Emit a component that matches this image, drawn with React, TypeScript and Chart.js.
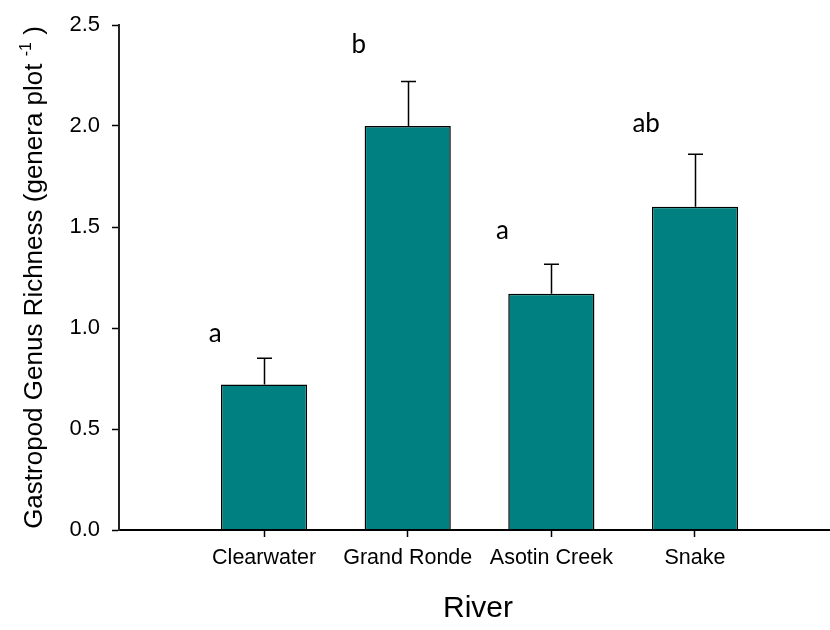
import React, { useEffect, useRef } from "react";
import { Chart, registerables } from "chart.js";

Chart.register(...registerables);

// Gastropod genus richness per river (mean with standard error)
const rivers = ["Clearwater", "Grand Ronde", "Asotin Creek", "Snake"];
const richness = [0.72, 2.0, 1.17, 1.6];
const stdError = [0.13, 0.22, 0.145, 0.26];
// Significance groupings and the richness level each letter sits at
const groupLetters = ["a", "b", "a", "ab"];
const letterLevels = [0.93, 2.36, 1.44, 1.97];

const Y_MIN = 0;
const Y_MAX = 2.5;
const Y_STEP = 0.5;

const TEAL = "#008080";
const AXIS_FONT = "'Liberation Sans', Arial, Helvetica, sans-serif";
const LETTER_FONT = "Lato, 'Open Sans', sans-serif";

const annotations = {
  id: "annotations",
  afterDatasetsDraw(chart: any) {
    const { ctx, scales } = chart;
    const xs = scales.x;
    const ys = scales.y;
    ctx.save();
    // upper standard-error whiskers
    ctx.strokeStyle = "#000";
    ctx.lineWidth = 1.5;
    richness.forEach((v, i) => {
      const x = Math.round(xs.getPixelForValue(i)) + 0.5;
      const yBar = ys.getPixelForValue(v);
      const yTop = ys.getPixelForValue(v + stdError[i]);
      ctx.beginPath();
      ctx.moveTo(x, yBar);
      ctx.lineTo(x, yTop);
      ctx.moveTo(x - 7.5, yTop);
      ctx.lineTo(x + 7.5, yTop);
      ctx.stroke();
    });
    // group letters
    ctx.fillStyle = "#000";
    ctx.font = `26px ${LETTER_FONT}`;
    ctx.textAlign = "center";
    ctx.textBaseline = "alphabetic";
    groupLetters.forEach((t, i) => {
      ctx.fillText(t, xs.getPixelForValue(i - 0.34), ys.getPixelForValue(letterLevels[i]));
    });
    ctx.restore();
  },
  afterDraw(chart: any) {
    const { ctx, chartArea } = chart;
    ctx.save();
    ctx.fillStyle = "#000";
    // x-axis title
    ctx.font = `30px ${AXIS_FONT}`;
    ctx.textAlign = "center";
    ctx.textBaseline = "alphabetic";
    ctx.fillText("River", 478, 617);

    // y-axis title with a superscript exponent
    const main = "Gastropod Genus Richness (genera plot ";
    const sup = "-1";
    const tail = " )";
    const big = `26px ${AXIS_FONT}`;
    const small = `16px ${AXIS_FONT}`;
    ctx.font = big;
    const wMain = ctx.measureText(main).width;
    const wTail = ctx.measureText(tail).width;
    ctx.font = small;
    const wSup = ctx.measureText(sup).width;
    const total = wMain + wSup + wTail;
    const cy = (chartArea.top + chartArea.bottom) / 2;
    ctx.translate(42, cy);
    ctx.rotate(-Math.PI / 2);
    ctx.textAlign = "left";
    let x0 = -total / 2;
    ctx.font = big;
    ctx.fillText(main, x0, 0);
    x0 += wMain;
    ctx.font = small;
    ctx.fillText(sup, x0, -11);
    x0 += wSup;
    ctx.font = big;
    ctx.fillText(tail, x0, 0);
    ctx.restore();
  },
};

export default function App() {
  const canvasRef = useRef<HTMLCanvasElement | null>(null);

  useEffect(() => {
    const canvas = canvasRef.current;
    if (!canvas) return;
    const chart = new Chart(canvas, {
      type: "bar",
      data: {
        datasets: [
          {
            data: richness.map((v, i) => ({ x: i, y: v })),
            backgroundColor: TEAL,
            borderColor: "#000",
            borderWidth: 1.5,
            barPercentage: 0.6,
            categoryPercentage: 1,
          },
        ],
      },
      options: {
        responsive: false,
        animation: false,
        devicePixelRatio: 1,
        layout: { padding: 0 },
        plugins: {
          legend: { display: false },
          tooltip: { enabled: false },
        },
        scales: {
          x: {
            type: "linear",
            offset: false,
            min: -1.01,
            max: 3.94,
            afterBuildTicks: (scale: any) => {
              scale.ticks = rivers.map((_, i) => ({ value: i }));
            },
            afterFit: (scale: any) => {
              scale.height = 100;
              scale.paddingLeft = 0;
              scale.paddingRight = 0;
            },
            grid: {
              offset: false,
              drawOnChartArea: false,
              drawTicks: true,
              tickLength: 7,
              tickWidth: 1.5,
              tickColor: "#000",
            },
            border: { display: true, color: "#000", width: 2, z: 1 },
            ticks: {
              autoSkip: false,
              maxRotation: 0,
              padding: 8,
              color: "#000",
              font: { family: AXIS_FONT, size: 21.5 },
              callback: (v: any) => rivers[v] ?? "",
            },
          },
          y: {
            type: "linear",
            min: Y_MIN,
            max: Y_MAX,
            afterFit: (scale: any) => {
              scale.width = 119;
              scale.paddingTop = 25;
              scale.paddingBottom = 0;
            },
            grid: {
              drawOnChartArea: false,
              drawTicks: true,
              tickLength: 7,
              tickWidth: 1.5,
              tickColor: "#000",
            },
            border: { display: true, color: "#222", width: 2, z: 1 },
            ticks: {
              stepSize: Y_STEP,
              padding: 12,
              color: "#000",
              font: { family: AXIS_FONT, size: 22 },
              callback: (v: any) => Number(v).toFixed(1),
            },
          },
        },
      },
      plugins: [annotations],
    });
    return () => chart.destroy();
  }, []);

  return (
    <div style={{ position: "absolute", left: 0, top: 0, width: 830, height: 630, background: "#fff" }}>
      <canvas ref={canvasRef} width={830} height={630} />
    </div>
  );
}
